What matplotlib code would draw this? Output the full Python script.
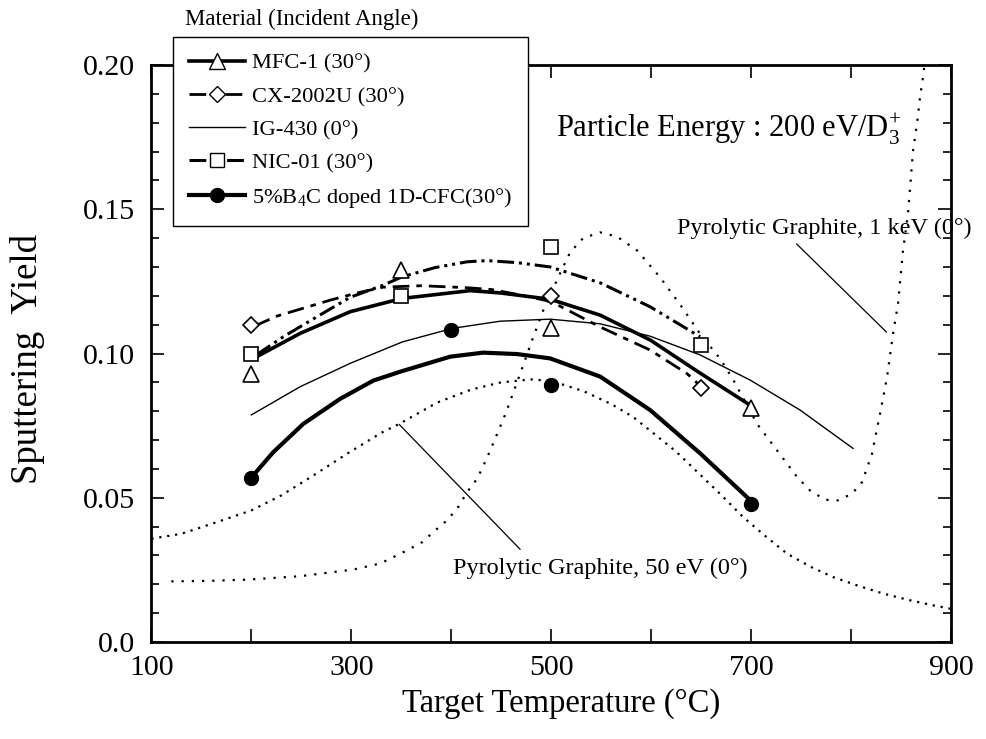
import matplotlib
matplotlib.use("Agg")
import matplotlib.pyplot as plt
from matplotlib.lines import Line2D
from matplotlib.ticker import MultipleLocator, FixedLocator, FixedFormatter

plt.rcParams['font.family'] = ['Liberation Serif', 'DejaVu Serif']
plt.rcParams['mathtext.fontset'] = 'custom'
plt.rcParams['mathtext.rm'] = 'Liberation Serif'
plt.rcParams['mathtext.it'] = 'Liberation Serif:italic'

# measured points (marker symbols)
mfc_t = [200, 350, 500, 700]
mfc_y = [0.093, 0.129, 0.109, 0.081]
cx_t = [200, 500, 650]
cx_y = [0.110, 0.120, 0.088]
nic_t = [200, 350, 500, 650]
nic_y = [0.100, 0.120, 0.137, 0.103]
b4c_t = [200, 400, 500, 700]
b4c_y = [0.057, 0.108, 0.089, 0.048]

# fitted curves
mfc_fit_t = [206, 249, 299, 351, 419, 449, 499, 549, 599, 649, 699]
mfc_fit_y = [0.099, 0.107, 0.1145, 0.1191, 0.1218, 0.1210, 0.1188, 0.1133, 0.1047, 0.0932, 0.0821]
cx_fit_t = [203, 226, 279, 306, 332, 370, 416, 440, 466, 500, 549, 599, 636, 650]
cx_fit_y = [0.1095, 0.113, 0.1185, 0.121, 0.123, 0.1235, 0.1228, 0.1222, 0.1205, 0.118, 0.1092, 0.1012, 0.093, 0.0885]
ig_t = [200, 249, 299, 351, 401, 449, 499, 549, 599, 649, 699, 749, 802]
ig_y = [0.0787, 0.0885, 0.0966, 0.1040, 0.1087, 0.1112, 0.1119, 0.1103, 0.1060, 0.0995, 0.0908, 0.0804, 0.0671]
nic_fit_t = [205, 232, 266, 299, 332, 351, 384, 416, 436, 466, 499, 549, 599, 649]
nic_fit_y = [0.0995, 0.1058, 0.1128, 0.1195, 0.1237, 0.1266, 0.1298, 0.1318, 0.1322, 0.1315, 0.1300, 0.1245, 0.1162, 0.1058]
b4c_fit_t = [200, 222, 252, 289, 322, 349, 399, 432, 466, 499, 549, 599, 649, 699]
b4c_fit_y = [0.057, 0.0658, 0.0756, 0.0843, 0.0906, 0.0937, 0.0989, 0.1003, 0.0998, 0.0983, 0.0920, 0.0804, 0.0654, 0.0492]

# pyrolytic graphite reference curves
pg50_t = [100, 130, 166, 200, 230, 262, 296, 330, 348, 386, 420, 450, 480, 500, 532, 560, 582,
          600, 625, 649, 670, 692, 715, 736, 760, 782, 807, 832, 857, 882, 900]
pg50_y = [0.0358, 0.0375, 0.0416, 0.0456, 0.0508, 0.0577, 0.0653, 0.0725, 0.0756, 0.0830, 0.0875,
          0.0900, 0.0910, 0.0905, 0.0870, 0.0825, 0.0780, 0.0730, 0.0660, 0.0580, 0.0510, 0.0433,
          0.0365, 0.0306, 0.0260, 0.0225, 0.0195, 0.0168, 0.0146, 0.0127, 0.0115]
pg1k_t = [120, 160, 196, 249, 302, 329, 342, 356, 371, 382, 396, 407, 416, 426, 436, 444, 455,
          469, 479, 492, 507, 519, 532, 549, 566, 586, 609, 631, 649, 669, 682, 706, 716, 726,
          746, 759, 774, 787, 801, 811, 821, 829, 836, 842, 847, 852, 857, 862, 866, 869, 872, 875]
pg1k_y = [0.0210, 0.0212, 0.0216, 0.0228, 0.0251, 0.0272, 0.0294, 0.0318, 0.0346, 0.0381, 0.0422,
          0.0468, 0.0520, 0.0566, 0.0640, 0.0705, 0.0797, 0.0930, 0.1028, 0.1149, 0.1264, 0.1351,
          0.1400, 0.1420, 0.1405, 0.1357, 0.1264, 0.1160, 0.1068, 0.0982, 0.0910, 0.0756, 0.0710,
          0.0664, 0.0572, 0.0525, 0.0493, 0.0491, 0.0514, 0.0554, 0.0653, 0.0791, 0.0918, 0.1068,
          0.1172, 0.1357, 0.1484, 0.1703, 0.1796, 0.1888, 0.1957, 0.2050]

fig = plt.figure(figsize=(9.86, 7.39), dpi=100)
ax = fig.add_axes([0.1535, 0.1313, 0.811, 0.7807])

lw_thick = 2.6
mk = dict(markerfacecolor='white', markeredgecolor='black', markeredgewidth=1.2, linestyle='none', zorder=5)

cx_dash = (0, (6, 2.5, 2, 2.5))
nic_dash = (0, (5.5, 1.6, 1, 1.6, 1, 1.6))

ax.plot(mfc_fit_t, mfc_fit_y, color='black', lw=lw_thick, solid_capstyle='butt')
ax.plot(cx_fit_t, cx_fit_y, color='black', lw=2.0, linestyle=cx_dash)
ax.plot(ig_t, ig_y, color='black', lw=1.0)
ax.plot(nic_fit_t, nic_fit_y, color='black', lw=2.2, linestyle=nic_dash)
ax.plot(b4c_fit_t, b4c_fit_y, color='black', lw=3.0, solid_capstyle='butt')
ax.plot(pg50_t, pg50_y, color='black', lw=1.6, linestyle=(0, (1, 2.6)))
ax.plot(pg1k_t, pg1k_y, color='black', lw=1.6, linestyle=(0, (1, 3.6)))

ax.plot(mfc_t, mfc_y, marker='^', markersize=12, **mk)
ax.plot(cx_t, cx_y, marker='D', markersize=8, **mk)
ax.plot(nic_t, nic_y, marker='s', markersize=9.5, **mk)
ax.plot(b4c_t, b4c_y, marker='o', markersize=10, color='black', linestyle='none', zorder=5)

ax.set_xlim(100, 900)
ax.set_ylim(0, 0.20)

ax.xaxis.set_major_locator(FixedLocator([100, 200, 300, 400, 500, 600, 700, 800, 900]))
ax.xaxis.set_major_formatter(FixedFormatter(['100', '', '300', '', '500', '', '700', '', '900']))
ax.yaxis.set_major_locator(FixedLocator([0, 0.05, 0.10, 0.15, 0.20]))
ax.yaxis.set_major_formatter(FixedFormatter(['0.0', '0.05', '0.10', '0.15', '0.20']))
ax.yaxis.set_minor_locator(MultipleLocator(0.01))

ax.tick_params(axis='both', which='both', direction='in', top=True, right=True, colors='black')
ax.tick_params(axis='x', which='major', length=9.5, width=1.2, labelsize=21.5, pad=9.5)
ax.tick_params(axis='y', which='major', length=9.5, width=1.2, labelsize=21.5, pad=12)
ax.tick_params(axis='y', which='minor', length=5.5, width=1.2)
for s in ax.spines.values():
    s.set_linewidth(2.0)

ax.set_xlabel('Target Temperature (°C)', fontsize=23.5)
ax.xaxis.set_label_coords(0.512, -0.08)
ax.xaxis.label.set_va('top')
ax.set_ylabel('Sputtering  Yield', fontsize=26.5)
ax.yaxis.set_label_coords(-0.133, 0.49)

ax.text(504.5, 0.175, 'Particle Energy : 200 eV/D$_{\\mathrm{3}}^{\\mathrm{+}}$', fontsize=22, ha='left', va='baseline')
ax.text(625.5, 0.1415, 'Pyrolytic Graphite, 1 keV (0°)', fontsize=17.5, ha='left', va='baseline', clip_on=False)
ax.text(402, 0.0234, 'Pyrolytic Graphite, 50 eV (0°)', fontsize=17.5, ha='left', va='baseline')
ax.annotate('', xy=(835.5, 0.1074), xytext=(745.5, 0.138),
            arrowprops=dict(arrowstyle='-', lw=0.9, color='black', shrinkA=0, shrinkB=0))
ax.annotate('', xy=(348, 0.0754), xytext=(469, 0.0321),
            arrowprops=dict(arrowstyle='-', lw=0.9, color='black', shrinkA=0, shrinkB=0))

handles = [
    Line2D([], [], color='black', lw=lw_thick, marker='^', markersize=12, markerfacecolor='white', markeredgecolor='black'),
    Line2D([], [], color='black', lw=2.0, linestyle=cx_dash, marker='D', markersize=8, markerfacecolor='white', markeredgecolor='black'),
    Line2D([], [], color='black', lw=1.0),
    Line2D([], [], color='black', lw=2.2, linestyle=nic_dash, marker='s', markersize=9.5, markerfacecolor='white', markeredgecolor='black'),
    Line2D([], [], color='black', lw=3.0, marker='o', markersize=10),
]
labels = ['MFC-1 (30°)', 'CX-2002U (30°)', 'IG-430 (0°)', 'NIC-01 (30°)',
          '5%B$_{\\mathrm{4}}$C doped 1D-CFC(30°)']
leg = ax.legend(handles, labels, loc='upper left', bbox_to_anchor=(173 / 986, 1 - 37 / 739),
                bbox_transform=fig.transFigure, borderaxespad=0, fontsize=16.2, numpoints=1,
                handlelength=2.5, handletextpad=0.3, labelspacing=0.55, borderpad=0.72,
                fancybox=False, framealpha=1, edgecolor='black')
leg.get_frame().set_linewidth(1.0)
leg.set_zorder(10)
fig.text(185 / 986, 1 - 25 / 739, 'Material (Incident Angle)', fontsize=16.5, ha='left', va='baseline')

fig.savefig('out.png', dpi=100)
